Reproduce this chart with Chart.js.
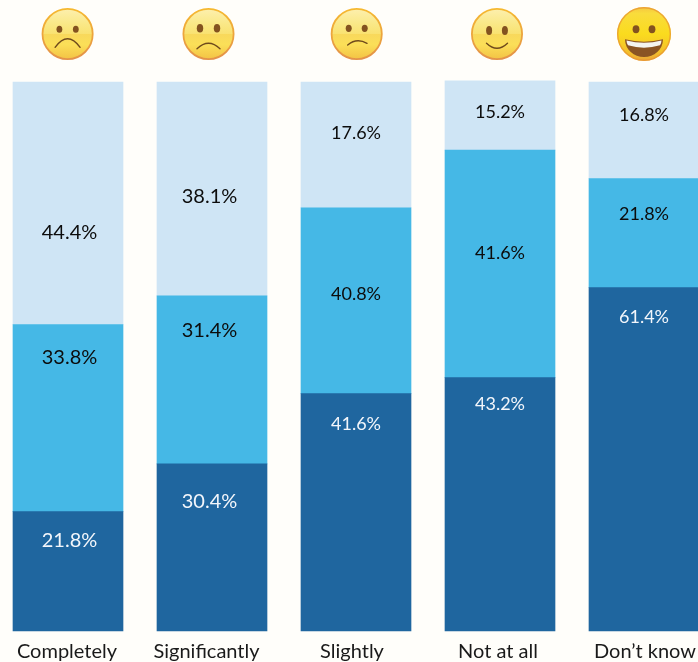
<!DOCTYPE html>
<html>
<head>
<meta charset="utf-8">
<style>
html,body{margin:0;padding:0;background:#fffefa;width:698px;height:662px;overflow:hidden}
#wrap{position:absolute;left:-4px;top:0;width:720px;height:662px}
canvas{display:block}
</style>
<script src="https://cdn.jsdelivr.net/npm/chart.js@4"></script>
</head>
<body>
<div id="wrap"><canvas id="c" width="720" height="662"></canvas></div>
<script>
const categories = ["Completely", "Significantly", "Slightly", "Not at all", "Don\u2019t know"];

/* segment heights as drawn in the picture (they differ from the printed labels) */
const darkHeights  = [21.75, 30.45, 43.25, 46.15, 62.55];
const midHeights   = [34.05, 30.6, 33.85, 41.45, 19.85];
const lightHeights = [44.2, 38.95, 22.9, 12.6, 17.6];

/* percentages as printed on the segments */
const darkLabels  = ["21.8%", "30.4%", "41.6%", "43.2%", "61.4%"];
const midLabels   = ["33.8%", "31.4%", "40.8%", "41.6%", "21.8%"];
const lightLabels = ["44.4%", "38.1%", "17.6%", "15.2%", "16.8%"];

const colors = { dark: "#1f669f", mid: "#45b8e6", light: "#cfe5f5" };

/* hand-placed label layout of the original: distance below each segment's top */
const labelDrop = [
  [29, 38, 31, 27, 30],
  [33, 35, 86, 103, 36],
  [151, 115, 51, 31, 33]
];
const labelShift = [1.5, -2.5, 0, 0, 0];
const labelFont = [20, 20, 18, 18, 18];
const tickShift = [-1, -5.5, -4, -2, 1];

const valueLabels = {
  id: "valueLabels",
  afterDatasetsDraw(chart) {
    const ctx = chart.ctx;
    ctx.save();
    ctx.textAlign = "center";
    ctx.textBaseline = "middle";
    chart.data.datasets.forEach((ds, d) => {
      chart.getDatasetMeta(d).data.forEach((bar, i) => {
        ctx.font = labelFont[i] + "px Lato";
        ctx.fillStyle = d === 0 ? "#f3f6fb" : "#0c0c0c";
        ctx.fillText(ds.printed[i], bar.x + labelShift[i], bar.y + labelDrop[d][i]);
      });
    });
    ctx.restore();
  }
};

/* the original's axis captions are hand-placed too */
const tickNudge = {
  id: "tickNudge",
  beforeDraw(chart) {
    chart.scales.x.getLabelItems().forEach((item, i) => {
      if (!item.nudged) {
        item.options.translation[0] += tickShift[i];
        item.nudged = true;
      }
    });
  }
};

/* decorative faces above the columns (page coordinates, +4 for the canvas shift) */
const faces = [
  { x: 67.6, y: 34, r: 26, eyeDx: 8.2, eyeDy: -4.7, eyeRx: 2.9, eyeRy: 3.5, mouth: [-12.5, 13.3, 0, -3.9, 12.5, 13.3] },
  { x: 208.5, y: 34, r: 26, eyeDx: 8.5, eyeDy: -5.7, eyeRx: 3.2, eyeRy: 4.3, mouth: [-11.5, 14.7, 0, 3.9, 11.5, 14.7] },
  { x: 356.7, y: 34, r: 26, eyeDx: 8, eyeDy: -5.7, eyeRx: 3, eyeRy: 3.6, mouth: [-9, 11, 0, 3.4, 10.3, 9.3] },
  { x: 497, y: 34, r: 26, eyeDx: 7.9, eyeDy: -3.6, eyeRx: 3, eyeRy: 4.5, mouth: [-10.5, 9.3, 0, 19.3, 10.5, 9.3] },
  { x: 644, y: 34, r: 27, eyeDx: 8, eyeDy: -4.7, eyeRx: 3.4, eyeRy: 4, grin: true }
];

function drawFace(ctx, f) {
  const cx = f.x + 4, cy = f.y, r = f.r;
  ctx.save();
  ctx.translate(cx, cy);
  if (f.grin) {
    const g = ctx.createLinearGradient(0, -r, 0, r);
    g.addColorStop(0, "#f6c640");
    g.addColorStop(0.12, "#f9dc3c");
    g.addColorStop(0.5, "#fadb1e");
    g.addColorStop(0.85, "#f3bf2c");
    g.addColorStop(1, "#e9a23a");
    ctx.fillStyle = g;
    ctx.beginPath(); ctx.arc(0, 0, r, 0, Math.PI * 2); ctx.fill();
    ctx.strokeStyle = "rgba(232,150,50,0.75)";
    ctx.lineWidth = 1.4;
    ctx.beginPath(); ctx.arc(0, 0, r - 0.7, 0, Math.PI * 2); ctx.stroke();
    /* open mouth */
    ctx.fillStyle = "#8a5424";
    ctx.beginPath();
    ctx.moveTo(-19, 5.3);
    ctx.quadraticCurveTo(0, 10, 19, 5.3);
    ctx.bezierCurveTo(19, 16, 10, 23, 0, 23);
    ctx.bezierCurveTo(-10, 23, -19, 16, -19, 5.3);
    ctx.closePath();
    ctx.fill();
    /* teeth */
    ctx.fillStyle = "#f4f4f0";
    ctx.beginPath();
    ctx.moveTo(-17.5, 6.6);
    ctx.quadraticCurveTo(0, 11, 17.5, 6.6);
    ctx.quadraticCurveTo(17.4, 9.5, 16, 11.3);
    ctx.quadraticCurveTo(0, 16, -16, 11.3);
    ctx.quadraticCurveTo(-17.4, 9.5, -17.5, 6.6);
    ctx.closePath();
    ctx.fill();
  } else {
    const g = ctx.createLinearGradient(0, -r, 0, r);
    g.addColorStop(0, "#fdf0b0");
    g.addColorStop(0.28, "#fae98a");
    g.addColorStop(0.49, "#f9e272");
    g.addColorStop(0.5, "#f8d85c");
    g.addColorStop(0.7, "#fbdf58");
    g.addColorStop(1, "#f3c143");
    ctx.fillStyle = g;
    ctx.beginPath(); ctx.arc(0, 0, r - 1, 0, Math.PI * 2); ctx.fill();
    const s = ctx.createLinearGradient(0, -r, 0, r);
    s.addColorStop(0, "#f6b92f");
    s.addColorStop(1, "#e3914a");
    ctx.strokeStyle = s;
    ctx.lineWidth = 1.8;
    ctx.beginPath(); ctx.arc(0, 0, r - 0.9, 0, Math.PI * 2); ctx.stroke();
    const m = f.mouth;
    ctx.strokeStyle = "#6f4a1c";
    ctx.lineWidth = 1.4;
    ctx.lineCap = "round";
    ctx.beginPath();
    ctx.moveTo(m[0], m[1]);
    ctx.quadraticCurveTo(m[2], m[3], m[4], m[5]);
    ctx.stroke();
  }
  ctx.fillStyle = "#83521f";
  [-1, 1].forEach(sign => {
    ctx.beginPath();
    ctx.ellipse(sign * f.eyeDx, f.eyeDy, f.eyeRx, f.eyeRy, 0, 0, Math.PI * 2);
    ctx.fill();
  });
  ctx.restore();
}

const facesPlugin = {
  id: "faces",
  afterDraw(chart) { faces.forEach(f => drawFace(chart.ctx, f)); }
};

new Chart(document.getElementById("c"), {
  type: "bar",
  data: {
    labels: categories,
    datasets: [
      { data: darkHeights,  printed: darkLabels,  backgroundColor: colors.dark, clip: false },
      { data: midHeights,   printed: midLabels,   backgroundColor: colors.mid, clip: false },
      { data: lightHeights, printed: lightLabels, backgroundColor: colors.light, clip: false }
    ]
  },
  plugins: [tickNudge, valueLabels, facesPlugin],
  options: {
    responsive: false,
    animation: false,
    barThickness: 110,
    layout: { padding: { top: 82, left: 0, right: 0, bottom: 0 } },
    plugins: { legend: { display: false }, tooltip: { enabled: false } },
    scales: {
      x: {
        stacked: true,
        grid: { display: false, drawTicks: false },
        border: { display: false },
        ticks: {
          color: "#1a1a1a",
          font: { family: "Lato", size: 20 },
          padding: 9,
          maxRotation: 0,
          autoSkip: false
        },
        afterFit(scale) { scale.height = 31; }
      },
      y: {
        display: false,
        stacked: true,
        min: 0,
        max: 100
      }
    }
  }
});
</script>
</body>
</html>
